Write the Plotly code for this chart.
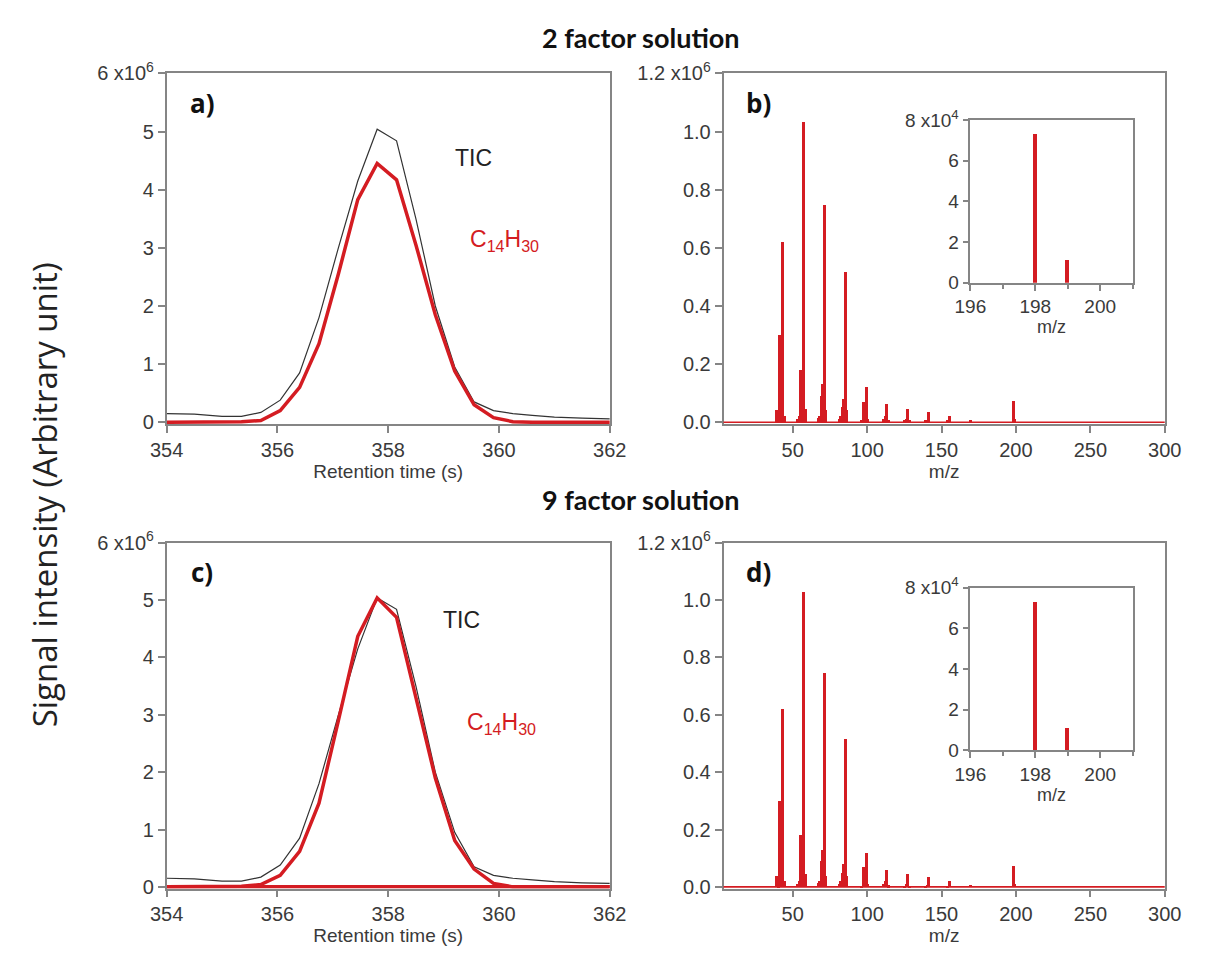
import plotly.graph_objects as go

# ---------------- data ----------------
# Retention time (s) and chromatograms (units of 1e6)
rt = [354.0, 354.5, 355.0, 355.35, 355.7, 356.05, 356.4, 356.75, 357.1, 357.45, 357.8,
      358.15, 358.5, 358.85, 359.2, 359.55, 359.9, 360.25, 360.6, 361.0, 361.5, 362.0]
tic = [0.15, 0.14, 0.10, 0.10, 0.17, 0.38, 0.85, 1.80, 3.00, 4.15, 5.04,
       4.84, 3.50, 2.00, 0.95, 0.35, 0.20, 0.15, 0.12, 0.09, 0.07, 0.06]
c14h30_2f = [0.0, 0.0, 0.0, 0.01, 0.03, 0.20, 0.60, 1.35, 2.55, 3.83, 4.45,
             4.17, 3.05, 1.85, 0.88, 0.30, 0.08, 0.01, 0.0, 0.0, 0.0, 0.0]
c14h30_9f = [0.0, 0.0, 0.0, 0.01, 0.04, 0.20, 0.62, 1.46, 2.90, 4.37, 5.04,
             4.70, 3.30, 1.90, 0.81, 0.31, 0.06, 0.0, 0.0, 0.0, 0.0, 0.0]
other_9f = [0.0] * len(rt)

# Mass spectrum of the C14H30 factor (units of 1e6)
mz = [39, 40, 41, 42, 43, 44,
      53, 54, 55, 56, 57, 58,
      67, 68, 69, 70, 71, 72,
      81, 82, 83, 84, 85, 86,
      96, 97, 98, 99, 100,
      111, 112, 113, 114,
      125, 126, 127, 128,
      139, 140, 141,
      154, 155,
      169,
      198, 199]
intensity = [0.04, 0.005, 0.30, 0.04, 0.62, 0.02,
             0.01, 0.02, 0.18, 0.03, 1.03, 0.045,
             0.015, 0.02, 0.09, 0.13, 0.745, 0.04,
             0.01, 0.02, 0.05, 0.08, 0.515, 0.04,
             0.005, 0.07, 0.02, 0.12, 0.01,
             0.01, 0.02, 0.06, 0.006,
             0.004, 0.01, 0.045, 0.004,
             0.004, 0.008, 0.035,
             0.005, 0.02,
             0.007,
             0.073, 0.011]

# ---------------- style ----------------
RED = "#d41c22"
AX = "#858585"
TXT = "#3a3a3a"
TICKFONT = dict(family="Liberation Sans, Arial", size=20, color=TXT)
INSFONT = dict(family="Liberation Sans, Arial", size=19, color=TXT)
W, H = 1207, 958


def px(x0, x1):
    return [x0 / W, x1 / W]


def py(top, bottom):
    return [1 - bottom / H, 1 - top / H]


fig = go.Figure()

scale6 = 1e6
rt_tic = [v * scale6 for v in tic]

# Panel a
fig.add_trace(go.Scatter(x=rt, y=rt_tic, mode="lines", line=dict(color="#333333", width=1.2),
                         xaxis="x", yaxis="y", showlegend=False))
fig.add_trace(go.Scatter(x=rt, y=[v * scale6 for v in c14h30_2f], mode="lines",
                         line=dict(color=RED, width=3.5), xaxis="x", yaxis="y", showlegend=False))
# Panel c
fig.add_trace(go.Scatter(x=rt, y=[v * scale6 for v in other_9f], mode="lines",
                         line=dict(color=RED, width=3.5), xaxis="x3", yaxis="y3", showlegend=False))
fig.add_trace(go.Scatter(x=rt, y=rt_tic, mode="lines", line=dict(color="#333333", width=1.2),
                         xaxis="x3", yaxis="y3", showlegend=False))
fig.add_trace(go.Scatter(x=rt, y=[v * scale6 for v in c14h30_9f], mode="lines",
                         line=dict(color=RED, width=3.5), xaxis="x3", yaxis="y3", showlegend=False))

spec = [v * scale6 for v in intensity]
# Panels b and d: spectrum
for xa, ya in (("x2", "y2"), ("x4", "y4")):
    fig.add_trace(go.Bar(x=mz, y=spec, width=2.0, marker=dict(color=RED, line=dict(width=0)),
                         xaxis=xa, yaxis=ya, showlegend=False))
# Insets
for xa, ya in (("x5", "y5"), ("x6", "y6")):
    fig.add_trace(go.Bar(x=mz, y=spec, width=0.12, marker=dict(color=RED, line=dict(width=0)),
                         xaxis=xa, yaxis=ya, showlegend=False))

# geometry (pixels)
A_X = (154, 610)
B_X = (727, 1181)
TOP_Y = (61, 421)
BOT_Y = (543, 898)
INS_X = (981, 1148)
INS_TOP = (109, 276)
INS_BOT = (589, 756)


def axis_common(font=TICKFONT, **kw):
    d = dict(showline=True, linecolor=AX, linewidth=1.6, mirror=True, ticks="outside",
             ticklen=7, tickcolor=AX, tickwidth=1.5, showgrid=False, zeroline=False,
             tickfont=font)
    d.update(kw)
    return d


rt_ticks = [354, 356, 358, 360, 362]
rt_title = dict(text="Retention time (s)", font=dict(family="Liberation Sans, Arial", size=19, color=TXT),
                standoff=0)
y6_vals = [0, 1e6, 2e6, 3e6, 4e6, 5e6, 6e6]
y6_text = ["0", "1", "2", "3", "4", "5", "6 x10<sup>6</sup>"]
ms_vals = [0, 0.2e6, 0.4e6, 0.6e6, 0.8e6, 1.0e6, 1.2e6]
ms_text = ["0.0", "0.2", "0.4", "0.6", "0.8", "1.0", "1.2 x10<sup>6</sup>"]
mz_ticks = [50, 100, 150, 200, 250, 300]
mz_title = dict(text="m/z", font=dict(family="Liberation Sans, Arial", size=19, color=TXT), standoff=0)
ins_title = dict(text="m/z", font=dict(family="Liberation Sans, Arial", size=18, color=TXT), standoff=0)
ins_yvals = [0, 2e4, 4e4, 6e4, 8e4]
ins_ytext = ["0", "2", "4", "6", "8 x10<sup>4</sup>"]
ins_minor = dict(tickvals=[197, 199, 201], ticklen=4, ticks="outside", tickcolor=AX)

Y6_RANGE = [-0.03e6, 6e6]
MS_RANGE = [-0.006e6, 1.2e6]

layout = dict(
    width=W, height=H, margin=dict(l=0, r=0, t=0, b=0),
    paper_bgcolor="white", plot_bgcolor="white", bargap=0,
    xaxis=axis_common(domain=px(*A_X), range=[354, 362], tickvals=rt_ticks, anchor="y", title=rt_title),
    yaxis=axis_common(domain=py(*TOP_Y), range=Y6_RANGE, tickvals=y6_vals, ticktext=y6_text, anchor="x"),
    xaxis2=axis_common(domain=px(*B_X), range=[3.5, 300], tickvals=mz_ticks, anchor="y2", title=mz_title),
    yaxis2=axis_common(domain=py(*TOP_Y), range=MS_RANGE, tickvals=ms_vals, ticktext=ms_text, anchor="x2"),
    xaxis3=axis_common(domain=px(*A_X), range=[354, 362], tickvals=rt_ticks, anchor="y3", title=rt_title),
    yaxis3=axis_common(domain=py(*BOT_Y), range=Y6_RANGE, tickvals=y6_vals, ticktext=y6_text, anchor="x3"),
    xaxis4=axis_common(domain=px(*B_X), range=[3.5, 300], tickvals=mz_ticks, anchor="y4", title=mz_title),
    yaxis4=axis_common(domain=py(*BOT_Y), range=MS_RANGE, tickvals=ms_vals, ticktext=ms_text, anchor="x4"),
    xaxis5=axis_common(font=INSFONT, domain=px(*INS_X), range=[196, 201], tickvals=[196, 198, 200],
                       anchor="y5", title=ins_title, minor=ins_minor, ticklen=6),
    yaxis5=axis_common(font=INSFONT, domain=py(*INS_TOP), range=[0, 8e4], tickvals=ins_yvals,
                       ticktext=ins_ytext, anchor="x5", ticklen=6),
    xaxis6=axis_common(font=INSFONT, domain=px(*INS_X), range=[196, 201], tickvals=[196, 198, 200],
                       anchor="y6", title=ins_title, minor=ins_minor, ticklen=6),
    yaxis6=axis_common(font=INSFONT, domain=py(*INS_BOT), range=[0, 8e4], tickvals=ins_yvals,
                       ticktext=ins_ytext, anchor="x6", ticklen=6),
)
fig.update_layout(**layout)

# red baseline of the spectra
shapes = []
for xa, ya in (("x2", "y2"), ("x4", "y4")):
    shapes.append(dict(type="line", xref=xa + " domain", yref=ya, x0=0, x1=1, y0=0, y1=0,
                       line=dict(color=RED, width=1.6)))
fig.update_layout(shapes=shapes)

ann = []
TITLEFONT = dict(family="Lato, Open Sans", size=27, color="#111111")
ann.append(dict(text="<b>2 factor solution</b>", x=642 / W, y=1 - 24 / H, xref="paper", yref="paper",
                xanchor="center", yanchor="middle", showarrow=False, font=TITLEFONT))
ann.append(dict(text="<b>9 factor solution</b>", x=642 / W, y=1 - 498 / H, xref="paper", yref="paper",
                xanchor="center", yanchor="middle", showarrow=False, font=TITLEFONT))
ann.append(dict(text="Signal intensity (Arbitrary unit)", x=28 / W, y=1 - 494 / H, xref="paper", yref="paper",
                xanchor="center", yanchor="middle", showarrow=False, textangle=-90,
                font=dict(family="Open Sans, Lato", size=33, color="#222222")))
LBL = dict(family="Open Sans, Lato", size=26, color="#111111")
for xa, ya, t in (("x", "y", "a)"), ("x2", "y2", "b)"), ("x3", "y3", "c)"), ("x4", "y4", "d)")):
    ann.append(dict(text="<b>%s</b>" % t, x=0.08, y=0.915, xref=xa + " domain", yref=ya + " domain",
                    xanchor="center", yanchor="middle", showarrow=False, font=LBL))
LAB = dict(family="Liberation Sans, Arial", size=23)
ann.append(dict(text="TIC", x=359.54, y=4.55e6, xref="x", yref="y", showarrow=False,
                xanchor="center", yanchor="middle", font=dict(color="#222222", **LAB)))
ann.append(dict(text="C<sub>14</sub>H<sub>30</sub>", x=360.1, y=3.12e6, xref="x", yref="y", showarrow=False,
                xanchor="center", yanchor="middle", font=dict(color=RED, **LAB)))
ann.append(dict(text="TIC", x=359.33, y=4.65e6, xref="x3", yref="y3", showarrow=False,
                xanchor="center", yanchor="middle", font=dict(color="#222222", **LAB)))
ann.append(dict(text="C<sub>14</sub>H<sub>30</sub>", x=360.05, y=2.85e6, xref="x3", yref="y3", showarrow=False,
                xanchor="center", yanchor="middle", font=dict(color=RED, **LAB)))
fig.update_layout(annotations=ann)

fig.write_html("out.html", config={"displayModeBar": False},
               post_script="document.body.style.margin='0';document.body.style.padding='0';")
